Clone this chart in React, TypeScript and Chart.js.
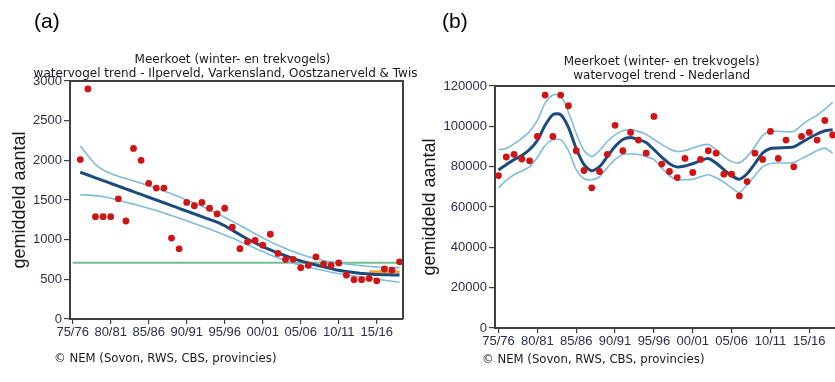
import React, { useEffect, useRef } from 'react';
import { Chart, registerables } from 'chart.js';

Chart.register(...registerables);

// ---------- data ----------
const seasons = [
  '75/76', '76/77', '77/78', '78/79', '79/80', '80/81', '81/82', '82/83', '83/84', '84/85',
  '85/86', '86/87', '87/88', '88/89', '89/90', '90/91', '91/92', '92/93', '93/94', '94/95',
  '95/96', '96/97', '97/98', '98/99', '99/00', '00/01', '01/02', '02/03', '03/04', '04/05',
  '05/06', '06/07', '07/08', '08/09', '09/10', '10/11', '11/12', '12/13', '13/14', '14/15',
  '15/16', '16/17', '17/18', '18/19',
];
const tickSeasons = ['75/76', '80/81', '85/86', '90/91', '95/96', '00/01', '05/06', '10/11', '15/16'];

// Panel (a): Ilperveld, Varkensland, Oostzanerveld & Twiske
const countsA = [
  null, 2010, 2900, 1290, 1290, 1290, 1515, 1235, 2150, 2000,
  1710, 1650, 1650, 1020, 885, 1470, 1428, 1470, 1396, 1325,
  1396, 1158, 887, 973, 990, 931, 1068, 826, 752, 752,
  647, 677, 782, 692, 677, 706, 553, 496, 496, 512,
  481, 630, 616, 721,
];
const trendA = [
  null, 1850, 1815, 1780, 1745, 1710, 1675, 1640, 1605, 1570,
  1535, 1500, 1465, 1430, 1395, 1360, 1325, 1290, 1255, 1220,
  1175, 1120, 1062, 1008, 958, 912, 870, 833, 797, 762,
  732, 705, 680, 657, 635, 614, 599, 586, 575, 566,
  561, 558, 556, 555,
];
const upperA = [
  null, 2180, 2060, 1950, 1880, 1835, 1800, 1770, 1742, 1712,
  1680, 1648, 1615, 1578, 1540, 1500, 1462, 1422, 1378, 1330,
  1282, 1232, 1180, 1128, 1075, 1024, 975, 930, 888, 850,
  815, 785, 760, 738, 720, 705, 693, 683, 673, 662,
  656, 652, 649, 647,
];
const lowerA = [
  null, 1565, 1562, 1555, 1542, 1522, 1498, 1472, 1448, 1422,
  1396, 1366, 1336, 1305, 1272, 1238, 1204, 1170, 1134, 1096,
  1058, 1020, 978, 935, 892, 850, 807, 770, 735, 703,
  676, 652, 630, 611, 590, 573, 557, 543, 528, 515,
  502, 489, 476, 463,
];
const referenceLevelA = 710;
const referenceSpanA = ['75/76', '18/19'];
const recentLevelA = 595;
const recentSpanA = ['14/15', '18/19'];

// Panel (b): Nederland
const countsB = [
  75600, 84800, 86100, 83800, 82900, 95000, 115500, 95000, 115500, 110200,
  87900, 78100, 69500, 77600, 86100, 100500, 87900, 97000, 93200, 86700,
  104900, 81300, 77600, 74600, 84100, 77100, 83600, 87900, 86700, 76300,
  76300, 65500, 72600, 86700, 83600, 97500, 84100, 93200, 79900, 95000,
  97000, 93200, 102900, 95700,
];
const trendB = [
  78400, 81000, 83500, 85500, 88500, 93000, 100500, 105800, 105800, 99500,
  89000, 81000, 78000, 80000, 85000, 90000, 93500, 94500, 93500, 92000,
  88500, 84700, 81500, 79800, 80300, 81500, 83000, 84000, 81800, 78500,
  75500, 73800, 76500, 81500, 86800, 89000, 89300, 89500, 89800, 92000,
  94200, 96200, 97800, 98300,
];
const upperB = [
  88400, 89000, 91300, 94000, 97500, 103000, 111500, 115500, 115300, 107000,
  96500, 88000, 85000, 88000, 92500, 95800, 97800, 98300, 97500, 96000,
  93500, 91000, 88800, 87500, 88000, 89200, 90500, 91000, 88500, 85000,
  82500, 82000, 85000, 90000, 95500, 97500, 97500, 97300, 97500, 100500,
  103300, 105500, 108500, 111900,
];
const lowerB = [
  69400, 73200, 76000, 77800, 80000, 84500, 90500, 93300, 93300, 88000,
  78500, 74000, 73500, 75000, 79500, 83500, 86000, 86400, 86000, 85000,
  83500, 79500, 75500, 73600, 73500, 73800, 75000, 76000, 74500, 72300,
  69500, 67200, 71000, 75500, 80000, 81600, 81800, 81800, 82000, 84000,
  85900, 88000, 89200, 86700,
];

const titleA = ['Meerkoet (winter- en trekvogels)', 'watervogel trend - Ilperveld, Varkensland, Oostzanerveld & Twiske'];
const titleB = ['Meerkoet (winter- en trekvogels)', 'watervogel trend - Nederland'];
const yAxisTitle = 'gemiddeld aantal';
const footnote = '\u00A9 NEM (Sovon, RWS, CBS, provincies)';

// ---------- styling ----------
const SANS = '"Liberation Sans", Arial, sans-serif';
const TAHOMA = '"DejaVu Sans", Verdana, sans-serif';
const axisColor = '#404040';
const tickColor = '#2d2d4d';
const RED = '#d01414';
const DARK = '#1b4b7c';
const LIGHT = '#7fbcdc';
const GREEN = '#72c08e';
const ORANGE = '#f3a22a';

const toPoints = (arr: (number | null)[]) =>
  arr.map((v, i) => (v == null ? null : { x: i, y: v })).filter(Boolean) as { x: number; y: number }[];

const decorPlugin = {
  id: 'decor',
  afterDraw(chart: any, _args: any, o: any) {
    const { ctx, chartArea: a } = chart;
    ctx.save();
    // frame top/right
    ctx.strokeStyle = axisColor;
    ctx.lineWidth = 2;
    ctx.beginPath();
    ctx.moveTo(a.left, a.top);
    ctx.lineTo(a.right, a.top);
    ctx.lineTo(a.right, a.bottom);
    ctx.stroke();
    // panel letter
    ctx.fillStyle = '#000';
    ctx.font = `21px ${SANS}`;
    ctx.textAlign = 'left';
    ctx.textBaseline = 'alphabetic';
    ctx.fillText(o.letter, o.letterX, 28);
    // titles
    ctx.fillStyle = '#1a1a1a';
    ctx.font = `12px ${TAHOMA}`;
    ctx.textAlign = 'center';
    ctx.textBaseline = 'middle';
    o.titles.forEach((t: string, k: number) => ctx.fillText(t, o.titleX, o.titleY + k * 14));
    // footnote
    ctx.font = `11.7px ${TAHOMA}`;
    ctx.textAlign = 'left';
    ctx.fillText(footnote, o.footX, o.footY);
    // y-axis title
    ctx.save();
    ctx.translate(o.yTitleX, (a.top + a.bottom) / 2);
    ctx.rotate(-Math.PI / 2);
    ctx.font = `18px ${SANS}`;
    ctx.fillStyle = '#1a1a1a';
    ctx.textAlign = 'center';
    ctx.textBaseline = 'alphabetic';
    ctx.fillText(yAxisTitle, 0, 0);
    ctx.restore();
    ctx.restore();
  },
};

const tickIdx = tickSeasons.map((s) => seasons.indexOf(s));

function makeConfig(p: any) {
  const datasets: any[] = [
    { type: 'scatter', data: toPoints(p.counts), showLine: false, pointRadius: 3.4, pointBackgroundColor: RED, pointBorderWidth: 0, backgroundColor: RED },
    { type: 'line', data: toPoints(p.trend), borderColor: DARK, borderWidth: 3, pointRadius: 0, tension: p.tension, fill: false },
  ];
  if (p.recent) {
    datasets.push({
      type: 'line',
      data: p.recent.span.map((s: string) => ({ x: seasons.indexOf(s), y: p.recent.level })),
      borderColor: ORANGE, borderWidth: 3, pointRadius: 0, fill: false,
    });
  }
  datasets.push(
    { type: 'line', data: toPoints(p.upper), borderColor: LIGHT, borderWidth: 1.6, pointRadius: 0, tension: p.tension, fill: false },
    { type: 'line', data: toPoints(p.lower), borderColor: LIGHT, borderWidth: 1.6, pointRadius: 0, tension: p.tension, fill: false },
  );
  if (p.reference) {
    datasets.push({
      type: 'line',
      data: p.reference.span.map((s: string) => ({ x: seasons.indexOf(s), y: p.reference.level })),
      borderColor: GREEN, borderWidth: 2, pointRadius: 0, fill: false,
    });
  }
  return {
    type: 'line',
    data: { datasets },
    plugins: [decorPlugin],
    options: {
      animation: false,
      responsive: false,
      events: [],
      layout: { padding: p.padding },
      plugins: {
        legend: { display: false },
        title: { display: false },
        tooltip: { enabled: false },
        decor: p.decor,
      },
      scales: {
        x: {
          type: 'linear',
          min: p.xMin,
          max: p.xMax,
          afterBuildTicks: (s: any) => {
            s.ticks = tickIdx.map((v) => ({ value: v }));
          },
          afterFit: (s: any) => {
            s.height = 30;
          },
          ticks: {
            autoSkip: false,
            maxRotation: 0,
            minRotation: 0,
            padding: p.xPad,
            color: tickColor,
            font: { family: SANS, size: 13 },
            callback: (v: number) => seasons[Math.round(v)],
          },
          grid: { drawOnChartArea: false, drawTicks: true, tickLength: 5, color: axisColor, lineWidth: 1.2 },
          border: { display: true, color: axisColor, width: 2 },
        },
        y: {
          type: 'linear',
          min: 0,
          max: p.yMax,
          afterFit: (s: any) => {
            s.width = p.yWidth;
          },
          ticks: {
            stepSize: p.yStep,
            padding: 2,
            color: tickColor,
            font: { family: SANS, size: 13 },
            callback: (v: number) => String(v),
          },
          grid: { drawOnChartArea: false, drawTicks: true, tickLength: 6, color: axisColor, lineWidth: 1.2 },
          border: { display: true, color: axisColor, width: 2 },
        },
      },
    },
  };
}

const configA = () =>
  makeConfig({
    counts: countsA, trend: trendA, upper: upperA, lower: lowerA,
    reference: { level: referenceLevelA, span: referenceSpanA },
    recent: { level: recentLevelA, span: recentSpanA },
    tension: 0.4,
    xMin: -0.35, xMax: 43.45, yMax: 3000, yStep: 500, yWidth: 70, xPad: 1,
    padding: { left: 0, top: 81, right: 15, bottom: 33 },
    decor: { letter: '(a)', letterX: 34, titles: titleA, titleX: 232.5, titleY: 59.5, footX: 54, footY: 359, yTitleX: 24.5 },
  });

const configB = () =>
  makeConfig({
    counts: countsB, trend: trendB, upper: upperB, lower: lowerB,
    tension: 0.25,
    xMin: -0.45, xMax: 43.5, yMax: 120000, yStep: 20000, yWidth: 77, xPad: 1,
    padding: { left: 0, top: 86, right: 13.5, bottom: 24 },
    decor: { letter: '(b)', letterX: 24, titles: titleB, titleX: 243.7, titleY: 62, footX: 64, footY: 360, yTitleX: 16.5 },
  });

function Panel({ make, left, width }: { make: () => any; left: number; width: number }) {
  const ref = useRef<HTMLCanvasElement>(null);
  useEffect(() => {
    const chart = new Chart(ref.current as HTMLCanvasElement, make());
    return () => chart.destroy();
  }, []);
  return (
    <canvas
      ref={ref}
      width={width}
      height={382}
      style={{ position: 'absolute', left, top: 0, width, height: 382, display: 'block' }}
    />
  );
}

export default function App() {
  return (
    <div
      style={{
        position: 'fixed', left: 0, top: 0, width: 835, height: 382,
        overflow: 'hidden', background: '#fff',
      }}
    >
      <Panel make={configA} left={0} width={418} />
      <Panel make={configB} left={418} width={432} />
    </div>
  );
}
